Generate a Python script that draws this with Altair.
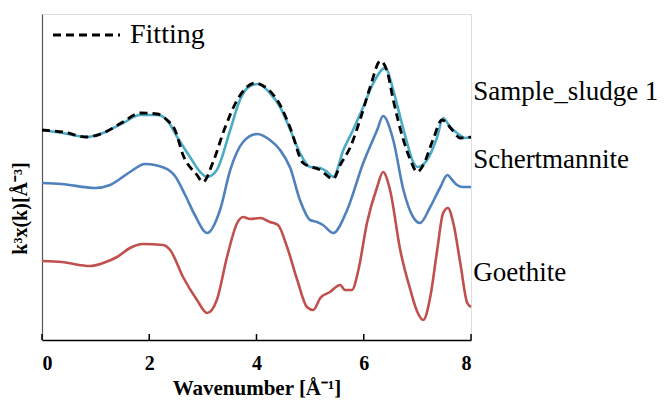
import altair as alt
import pandas as pd

# Sample_sludge 1 (measured)
sample_k = [0.00, 0.39, 0.84, 1.14, 1.51, 1.83, 2.15, 2.33, 2.52, 2.76, 2.95, 3.08, 3.26, 3.51, 3.69, 3.88, 4.03, 4.25, 4.44, 4.63, 4.81, 5.00, 5.19, 5.32, 5.43, 5.62, 5.80, 5.99, 6.18, 6.40, 6.55, 6.68, 6.81, 6.92, 7.01, 7.18, 7.37, 7.48, 7.61, 7.74, 7.89, 8.00]
sample_y = [210, 207, 203, 207, 217, 225, 225, 220, 203, 183, 168, 163, 170, 210, 240, 254, 256, 247, 233, 210, 187, 173, 172, 168, 163, 190, 210, 233, 257, 272, 250, 223, 197, 178, 173, 180, 203, 222, 213, 207, 202, 203]

# Fitting
fit_k = [0.00, 0.39, 0.84, 1.14, 1.51, 1.83, 2.15, 2.33, 2.48, 2.63, 2.89, 3.00, 3.19, 3.41, 3.64, 3.82, 3.97, 4.16, 4.44, 4.63, 4.87, 5.19, 5.43, 5.56, 5.75, 5.93, 6.12, 6.31, 6.44, 6.55, 6.74, 6.87, 7.00, 7.11, 7.29, 7.46, 7.65, 7.80, 8.00]
fit_y = [210, 208, 203, 207, 218, 227, 226, 220, 210, 185, 165, 158, 178, 212, 240, 253, 257, 253, 235, 212, 177, 170, 161, 175, 193, 220, 253, 279, 268, 240, 200, 180, 168, 175, 200, 220, 210, 202, 203]

# Schertmannite
sch_k = [0.00, 0.37, 0.99, 1.27, 1.64, 1.92, 2.29, 2.48, 2.67, 2.85, 3.08, 3.32, 3.51, 3.75, 4.01, 4.25, 4.44, 4.63, 4.81, 5.00, 5.13, 5.24, 5.43, 5.69, 5.99, 6.25, 6.36, 6.55, 6.74, 6.92, 7.05, 7.24, 7.43, 7.56, 7.65, 7.74, 7.85, 8.00]
sch_y = [157, 156, 152, 155, 168, 176, 172, 164, 145, 125, 107, 130, 170, 198, 206, 200, 190, 172, 140, 120, 118, 115, 107, 130, 177, 210, 224, 200, 150, 123, 117, 133, 153, 165, 160, 155, 153, 153]

# Goethite
goe_k = [0.00, 0.37, 0.90, 1.14, 1.40, 1.64, 1.88, 2.26, 2.39, 2.63, 2.89, 3.08, 3.26, 3.45, 3.64, 3.75, 3.88, 4.07, 4.25, 4.40, 4.57, 4.76, 4.94, 5.06, 5.19, 5.37, 5.56, 5.65, 5.78, 5.90, 6.06, 6.25, 6.36, 6.49, 6.68, 6.87, 7.00, 7.11, 7.24, 7.37, 7.48, 7.57, 7.67, 7.80, 7.93, 8.00]
goe_y = [79, 78, 74, 77, 83, 92, 96, 95, 90, 63, 40, 27, 40, 83, 117, 123, 121, 122, 118, 115, 93, 60, 33, 30, 42, 48, 55, 50, 50, 70, 117, 153, 168, 150, 90, 50, 28, 20, 43, 90, 127, 132, 117, 77, 37, 33]

series_names = ["Sample_sludge 1", "Schertmannite", "Goethite"]
series_colors = ["#4BACC6", "#4F81BD", "#C0504D"]
x_ticks = [0, 2, 4, 6, 8]

label_text = ["Sample_sludge 1", "Schertmannite", "Goethite"]
label_k = [8.04, 8.04, 8.04]
label_y = [248, 180, 67]

rows = []
for name, ks, ys in [("Sample_sludge 1", sample_k, sample_y),
                     ("Schertmannite", sch_k, sch_y),
                     ("Goethite", goe_k, goe_y)]:
    for i, (k, y) in enumerate(zip(ks, ys)):
        rows.append({"series": name, "k": k, "y": y, "order": i})
df = pd.DataFrame(rows)
df_fit = pd.DataFrame({"k": fit_k, "y": fit_y})
df_lab = pd.DataFrame({"label": label_text, "k": label_k, "y": label_y})
df_ticks = pd.DataFrame({"k": x_ticks})

FONT = "'Liberation Serif', 'Times New Roman', serif"
W, H = 429, 326

xscale = alt.Scale(domain=[0, 8], nice=False)
yscale = alt.Scale(domain=[0, 326], nice=False)

x_axis = alt.Axis(values=x_ticks, ticks=False, tickSize=0, grid=False, domainColor="#000000",
                  domainWidth=1.5, labelFont=FONT, labelFontSize=20, labelFontWeight="bold",
                  labelColor="#000000", labelPadding=13, title="Wavenumber [Å⁻¹]",
                  titleFont=FONT, titleFontSize=21, titleFontWeight="bold", titleColor="#000000",
                  titlePadding=4)
y_axis = alt.Axis(ticks=False, labels=False, grid=False, domainColor="#555555", domainWidth=1.2,
                  title="k³x(k)[Å⁻³]", titleFont=FONT, titleFontSize=20, titleFontWeight="bold",
                  titleColor="#000000", titleX=-12, titleY=194, titleAngle=-90)

lines = alt.Chart(df).mark_line(strokeWidth=2.6, interpolate="monotone").encode(
    x=alt.X("k:Q", scale=xscale, axis=x_axis),
    y=alt.Y("y:Q", scale=yscale, axis=y_axis),
    color=alt.Color("series:N", scale=alt.Scale(domain=series_names, range=series_colors), legend=None),
    order="order:Q",
)

fit = alt.Chart(df_fit).mark_line(strokeWidth=2.8, color="#000000", strokeDash=[8, 5],
                                  interpolate="monotone").encode(
    x=alt.X("k:Q", scale=xscale), y=alt.Y("y:Q", scale=yscale)
)

labels = alt.Chart(df_lab).mark_text(align="left", baseline="middle", font=FONT, fontSize=27,
                                     color="#000000", clip=False).encode(
    x=alt.X("k:Q", scale=xscale), y=alt.Y("y:Q", scale=yscale), text="label:N"
)

ticks = alt.Chart(df_ticks).mark_rule(color="#000000", strokeWidth=1.5).encode(
    x=alt.X("k:Q", scale=xscale), y=alt.value(H), y2=alt.value(H - 6)
)

legend_line = alt.Chart(pd.DataFrame({"t": ["Fitting"]})).mark_rule(
    color="#000000", strokeWidth=2.8, strokeDash=[8, 5]
).encode(x=alt.value(11), x2=alt.value(78), y=alt.value(21))

legend_text = alt.Chart(pd.DataFrame({"t": ["Fitting"]})).mark_text(
    align="left", baseline="middle", font=FONT, fontSize=28, color="#000000"
).encode(x=alt.value(88), y=alt.value(21), text="t:N")

chart = alt.layer(lines, fit, ticks, labels, legend_line, legend_text).properties(
    width=W, height=H,
    autosize=alt.AutoSizeParams(type="none"),
    padding={"left": 34, "top": 6, "right": 190, "bottom": 60},
).configure_view(stroke=None).configure(background="#ffffff")

chart.save("out.html", embed_options={"renderer": "svg", "actions": False})
